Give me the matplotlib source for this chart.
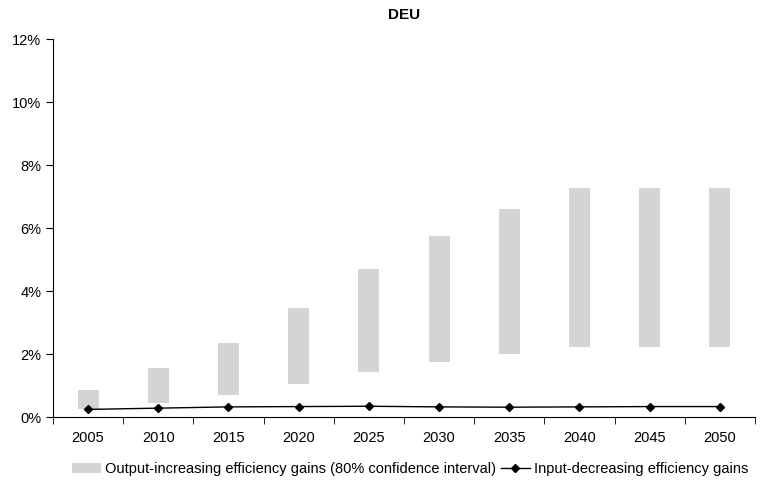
import numpy as np
import matplotlib.pyplot as plt
from matplotlib.ticker import FuncFormatter

plt.rcParams['font.family'] = ['Liberation Sans', 'DejaVu Sans']

years = ['2005', '2010', '2015', '2020', '2025', '2030', '2035', '2040', '2045', '2050']
ci_low = [0.27, 0.46, 0.72, 1.07, 1.45, 1.77, 2.02, 2.24, 2.24, 2.24]
ci_high = [0.87, 1.56, 2.36, 3.47, 4.71, 5.76, 6.61, 7.28, 7.28, 7.28]
input_dec = [0.25, 0.29, 0.33, 0.34, 0.35, 0.33, 0.32, 0.33, 0.34, 0.34]

fig = plt.figure(figsize=(7.68, 4.86), dpi=100)
ax = fig.add_axes([0.069, 0.1414, 0.914, 0.7776])

x = np.arange(len(years))
heights = np.array(ci_high) - np.array(ci_low)
bars = ax.bar(x, heights, bottom=ci_low, width=0.3, color='#d4d4d4',
              label='Output-increasing efficiency gains (80% confidence interval)')
line, = ax.plot(x, input_dec, color='black', linewidth=1, marker='D', markersize=4,
                label='Input-decreasing efficiency gains')

ax.set_xlim(-0.5, len(years) - 0.5)
ax.set_ylim(0, 12)
ax.set_yticks(np.arange(0, 13, 2))
ax.yaxis.set_major_formatter(FuncFormatter(lambda v, p: '%d%%' % v))
ax.set_xticks(x)
ax.set_xticklabels(years)
ax.set_xticks(np.arange(-0.5, len(years)), minor=True)
ax.tick_params(axis='x', which='major', length=0, pad=10, labelsize=10.5)
ax.tick_params(axis='x', which='minor', length=5, direction='out')
ax.tick_params(axis='y', length=5, direction='out', labelsize=10.5)
for s in ['top', 'right']:
    ax.spines[s].set_visible(False)

ax.set_title('DEU', fontweight='bold', fontsize=11, pad=15)

fig.legend(handles=[bars, line], loc='center', bbox_to_anchor=(0.534, 0.035), ncol=2,
           frameon=False, fontsize=10.5, handlelength=2, handletextpad=0.3,
           columnspacing=0.3)

fig.savefig('out.png', dpi=100)
